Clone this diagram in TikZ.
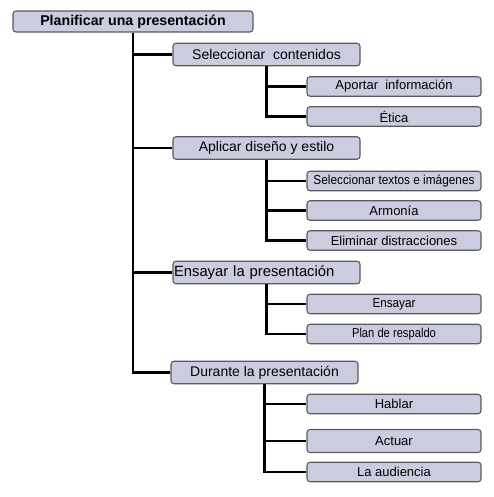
\documentclass[tikz,border=0pt]{standalone}
\usepackage{fontspec}
\setmainfont{Liberation Sans}
\definecolor{boxfill}{RGB}{204,204,224}
\definecolor{boxline}{RGB}{90,90,95}
\begin{document}
\begin{tikzpicture}[x=1pt,y={(0pt,-1pt)},
  box/.style={draw=boxline, line width=1.1pt, fill=boxfill, rounded corners=3pt, inner sep=0pt, anchor=center},
  rootbox/.style={box, minimum width=240pt, minimum height=21pt, font=\fontsize{14.2}{16}\selectfont\bfseries},
  lvone/.style={box, minimum width=187pt, minimum height=22.5pt, font=\fontsize{14}{16}\selectfont},
  lvtwo/.style={box, minimum width=174pt, minimum height=19.5pt, font=\fontsize{13}{15}\selectfont},
  conn/.style={line width=2.4pt, black}]
\useasboundingbox (0,0) rectangle (494,497);
\fill[white] (0,0) rectangle (494,497);
\node[rootbox] (root) at (133,21.5) {Planificar una presentación};
\node[lvone] (sel) at (266.5,54.5) {Seleccionar\ \ contenidos};
\node[lvone] (apl) at (266.5,148) {Aplicar diseño y estilo};
\node[lvone, font=\fontsize{14.8}{16}\selectfont, text width=185pt, align=left] (ens) at (266.5,272.5) {Ensayar la presentación};
\node[lvone] (dur) at (264.5,372.5) {Durante la presentación};
\node[lvtwo] (aport) at (394,86.5) {Aportar\ \ información};
\node[lvtwo] (etica) at (394,116.5) {Ética};
\node[lvtwo] (seltex) at (394,181) {\scalebox{0.91}[1]{Seleccionar textos e imágenes}};
\node[lvtwo] (armon) at (394,210.5) {Armonía};
\node[lvtwo] (elim) at (394,240.5) {Eliminar distracciones};
\node[lvtwo] (ensay) at (394,304) {\scalebox{0.9}[1]{Ensayar}};
\node[lvtwo] (plan) at (394,334) {\scalebox{0.86}[1]{Plan de respaldo}};
\node[lvtwo] (habl) at (394,404) {Hablar};
\node[lvtwo, minimum height=23pt] (actu) at (394,441) {Actuar};
\node[lvtwo] (audi) at (394,472) {La audiencia};
\draw[conn] (root.south) |- (sel.west);
\draw[conn] (root.south) |- (apl.west);
\draw[conn] (root.south) |- (ens.west);
\draw[conn] (root.south) |- (dur.west);
\draw[conn] (sel.south) |- (aport.west);
\draw[conn] (sel.south) |- (etica.west);
\draw[conn] (apl.south) |- (seltex.west);
\draw[conn] (apl.south) |- (armon.west);
\draw[conn] (apl.south) |- (elim.west);
\draw[conn] (ens.south) |- (ensay.west);
\draw[conn] (ens.south) |- (plan.west);
\draw[conn] (dur.south) |- (habl.west);
\draw[conn] (dur.south) |- (actu.west);
\draw[conn] (dur.south) |- (audi.west);
\end{tikzpicture}
\end{document}
